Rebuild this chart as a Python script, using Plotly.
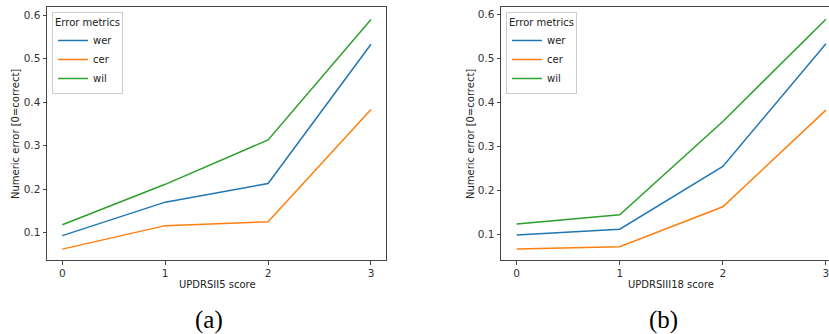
import plotly.graph_objects as go

scores = [0, 1, 2, 3]
tick_labels = ["0", "1", "2", "3"]

# Panel (a): UPDRSII5
a_wer = [0.093, 0.170, 0.213, 0.533]
a_cer = [0.062, 0.116, 0.125, 0.383]
a_wil = [0.118, 0.211, 0.313, 0.590]

# Panel (b): UPDRSIII18
b_wer = [0.099, 0.112, 0.255, 0.534]
b_cer = [0.067, 0.072, 0.163, 0.383]
b_wil = [0.124, 0.145, 0.357, 0.590]

metric_names = ["wer", "cer", "wil"]
colors = ["#1f77b4", "#ff7f0e", "#2ca02c"]

W, H = 829, 334
fig = go.Figure()

for name, col, ys in zip(metric_names, colors, [a_wer, a_cer, a_wil]):
    fig.add_trace(go.Scatter(x=scores, y=ys, mode="lines", name=name,
                             line=dict(color=col, width=1.5),
                             xaxis="x", yaxis="y", legend="legend"))
for name, col, ys in zip(metric_names, colors, [b_wer, b_cer, b_wil]):
    fig.add_trace(go.Scatter(x=scores, y=ys, mode="lines", name=name,
                             line=dict(color=col, width=1.5),
                             xaxis="x2", yaxis="y2", legend="legend2"))

spine = "#444444"
tickfont = dict(family="DejaVu Sans", size=10.5, color="#333333")
ydom = [1 - 260 / H, 1 - 7.3 / H]

def xax(dom, rng, anchor):
    return dict(domain=dom, range=rng, anchor=anchor, tickvals=scores, ticktext=tick_labels,
                showgrid=False, zeroline=False, showline=True, linecolor=spine, linewidth=1,
                mirror=True, ticks="outside", ticklen=3.5, tickwidth=1, tickcolor=spine,
                tickfont=tickfont, ticklabeloverflow="allow")

def yax(rng, anchor, mirror):
    return dict(domain=ydom, range=rng, anchor=anchor, tickvals=[0.1, 0.2, 0.3, 0.4, 0.5, 0.6],
                ticktext=["0.1", "0.2", "0.3", "0.4", "0.5", "0.6"],
                showgrid=False, zeroline=False, showline=True, linecolor=spine, linewidth=1,
                mirror=mirror, ticks="outside", ticklen=3.5, tickwidth=1, tickcolor=spine,
                tickfont=tickfont, ticklabeloverflow="allow")

legend_common = dict(bgcolor="rgba(255,255,255,0.9)", bordercolor="#cccccc", borderwidth=1,
                     font=dict(family="DejaVu Sans", size=10, color="#222222"),
                     title=dict(text="Error metrics", font=dict(family="DejaVu Sans", size=10, color="#222222")),
                     itemwidth=30, xanchor="left", yanchor="top", tracegroupgap=0)

fig.update_layout(
    width=W, height=H,
    margin=dict(l=0, r=0, t=0, b=0),
    paper_bgcolor="white", plot_bgcolor="white",
    xaxis=xax([47 / W, 386 / W], [-0.149, 3.146], "y"),
    yaxis=yax([0.037, 0.618], "x", True),
    xaxis2=xax([501 / W, 1.0], [-0.152, 3.03], "y2"),
    yaxis2=yax([0.042, 0.617], "x2", False),
    legend=dict(x=52 / W, y=1 - 12 / H, **legend_common),
    legend2=dict(x=506 / W, y=1 - 12 / H, **legend_common),
    showlegend=True,
)

axis_font = dict(family="DejaVu Sans", size=10, color="#222222")
annots = [
    dict(text="UPDRSII5 score", x=217 / W, y=1 - 284 / H),
    dict(text="UPDRSIII18 score", x=671 / W, y=1 - 284 / H),
]
for a in annots:
    fig.add_annotation(xref="paper", yref="paper", showarrow=False, font=axis_font,
                       xanchor="center", yanchor="middle", **a)
for xp in [16, 471]:
    fig.add_annotation(text="Numeric error [0=correct]", xref="paper", yref="paper",
                       x=xp / W, y=1 - 134 / H, textangle=-90, showarrow=False,
                       font=axis_font, xanchor="center", yanchor="middle")
cap_font = dict(family="Liberation Serif", size=25, color="#000000")
for txt, xp in [("(a)", 209), ("(b)", 663)]:
    fig.add_annotation(text=txt, xref="paper", yref="paper", x=xp / W, y=1 - 320 / H,
                       showarrow=False, font=cap_font, xanchor="center", yanchor="middle")

fig.write_html("out.html", config={"displayModeBar": False},
               post_script="document.body.style.margin='0';document.body.style.overflow='hidden';")
